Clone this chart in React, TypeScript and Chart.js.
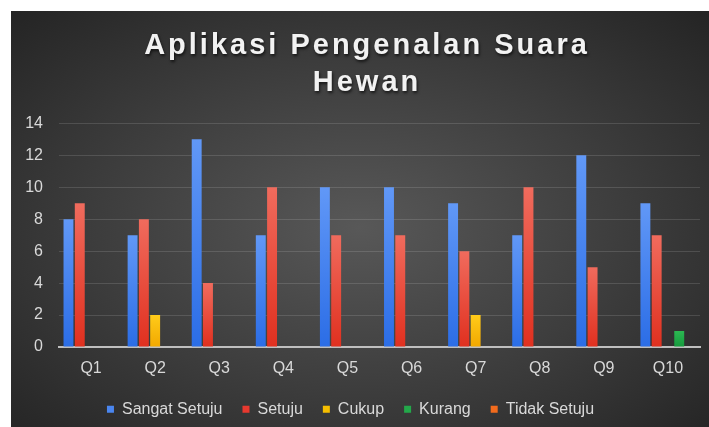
import React, { useEffect, useRef } from "react";
import { Chart, registerables } from "chart.js";

Chart.register(...registerables);

const categories = ["Q1", "Q2", "Q3", "Q4", "Q5", "Q6", "Q7", "Q8", "Q9", "Q10"];
const sangatSetuju = [8, 7, 13, 7, 10, 10, 9, 7, 12, 9];
const setuju = [9, 8, 4, 10, 7, 7, 6, 10, 5, 7];
const cukup = [0, 2, 0, 0, 0, 0, 2, 0, 0, 0];
const kurang = [0, 0, 0, 0, 0, 0, 0, 0, 0, 1];
const tidakSetuju = [0, 0, 0, 0, 0, 0, 0, 0, 0, 0];
const seriesNames = ["Sangat Setuju", "Setuju", "Cukup", "Kurang", "Tidak Setuju"];
const titleLines = ["Aplikasi Pengenalan Suara", "Hewan"];
const yMin = 0;
const yMax = 14;
const yStep = 2;

const seriesData = [sangatSetuju, setuju, cukup, kurang, tidakSetuju];
const seriesColors = [
  { top: "#6198f7", bottom: "#2b6de6", solid: "#4a86f0" },
  { top: "#f06b5d", bottom: "#e0301f", solid: "#e8392f" },
  { top: "#ffcb1a", bottom: "#f2a800", solid: "#f6be00" },
  { top: "#2cb852", bottom: "#159a3d", solid: "#23a84a" },
  { top: "#f68a45", bottom: "#ee5f12", solid: "#f26b1d" },
];

const FONT = "'Liberation Sans', Arial, sans-serif";

const titlePlugin = {
  id: "customTitle",
  afterDraw(chart: any) {
    const ctx = chart.ctx as CanvasRenderingContext2D;
    ctx.save();
    ctx.font = `bold 29px ${FONT}`;
    (ctx as any).letterSpacing = "3px";
    ctx.textAlign = "center";
    ctx.textBaseline = "alphabetic";
    ctx.fillStyle = "#f2f2f2";
    ctx.shadowColor = "rgba(0,0,0,0.65)";
    ctx.shadowBlur = 3;
    ctx.shadowOffsetX = 1;
    ctx.shadowOffsetY = 2;
    ctx.fillText(titleLines[0], 356, 43);
    ctx.fillText(titleLines[1], 356, 80);
    ctx.restore();
  },
};

const legendShiftPlugin = {
  id: "legendShift",
  afterLayout(chart: any) {
    const lg = chart.legend;
    if (!lg) return;
    const dx = -12;
    const dy = -9;
    lg.left += dx;
    lg.right += dx;
    lg.top += dy;
    lg.bottom += dy;
  },
};

function makeGradient(seriesIndex: number) {
  return (ctx: any) => {
    const chart = ctx.chart;
    const c = seriesColors[seriesIndex];
    const yScale = chart.scales && chart.scales.y;
    if (!yScale || ctx.type !== "data") return c.solid;
    const v = typeof ctx.raw === "number" ? ctx.raw : 0;
    const yTop = yScale.getPixelForValue(v);
    const yBase = yScale.getPixelForValue(0);
    if (!isFinite(yTop) || !isFinite(yBase) || Math.abs(yBase - yTop) < 1) return c.solid;
    const g = chart.ctx.createLinearGradient(0, yTop, 0, yBase);
    g.addColorStop(0, c.top);
    g.addColorStop(1, c.bottom);
    return g;
  };
}

export default function App() {
  const canvasRef = useRef<HTMLCanvasElement | null>(null);

  useEffect(() => {
    if (!canvasRef.current) return;
    const chart = new Chart(canvasRef.current, {
      type: "bar",
      data: {
        labels: categories,
        datasets: seriesNames.map((name, i) => ({
          label: name,
          data: seriesData[i],
          backgroundColor: makeGradient(i) as any,
          borderWidth: 0,
          categoryPercentage: 0.88,
          barPercentage: 0.88,
        })),
      },
      options: {
        responsive: false,
        animation: false,
        devicePixelRatio: 1,
        layout: { padding: { top: 112.4, left: 14, right: 9, bottom: -9.2 } },
        plugins: {
          title: { display: false },
          tooltip: { enabled: false },
          legend: {
            position: "bottom",
            labels: {
              boxWidth: 7,
              boxHeight: 7,
              padding: 20,
              color: "#d9d9d9",
              font: { family: FONT, size: 16 },
              generateLabels: () =>
                seriesNames.map((name, i) => ({
                  text: name,
                  fillStyle: seriesColors[i].solid,
                  strokeStyle: seriesColors[i].solid,
                  lineWidth: 0,
                  hidden: false,
                  datasetIndex: i,
                  fontColor: "#d9d9d9",
                })),
            },
          },
        },
        scales: {
          x: {
            grid: { display: false, drawTicks: false },
            border: { display: true, color: "#bfbfbf", width: 2 },
            ticks: {
              color: "#d9d9d9",
              font: { family: FONT, size: 16 },
              padding: 12,
            },
          },
          y: {
            min: yMin,
            max: yMax,
            afterFit: (scale: any) => {
              scale.width = 34;
            },
            ticks: {
              stepSize: yStep,
              color: "#d9d9d9",
              font: { family: FONT, size: 16 },
              padding: 16,
            },
            grid: { color: "rgba(255,255,255,0.13)", lineWidth: 1, drawTicks: false },
            border: { display: false },
          },
        },
      },
      plugins: [titlePlugin, legendShiftPlugin],
    });
    return () => chart.destroy();
  }, []);

  return (
    <div
      style={{
        position: "fixed",
        left: 11,
        top: 11,
        width: 698,
        height: 416,
        background:
          "radial-gradient(ellipse farthest-corner at 50% 52%, #585858 0%, #3c3c3c 55%, #242424 100%)",
      }}
    >
      <canvas ref={canvasRef} width={698} height={416} style={{ display: "block" }} />
    </div>
  );
}
